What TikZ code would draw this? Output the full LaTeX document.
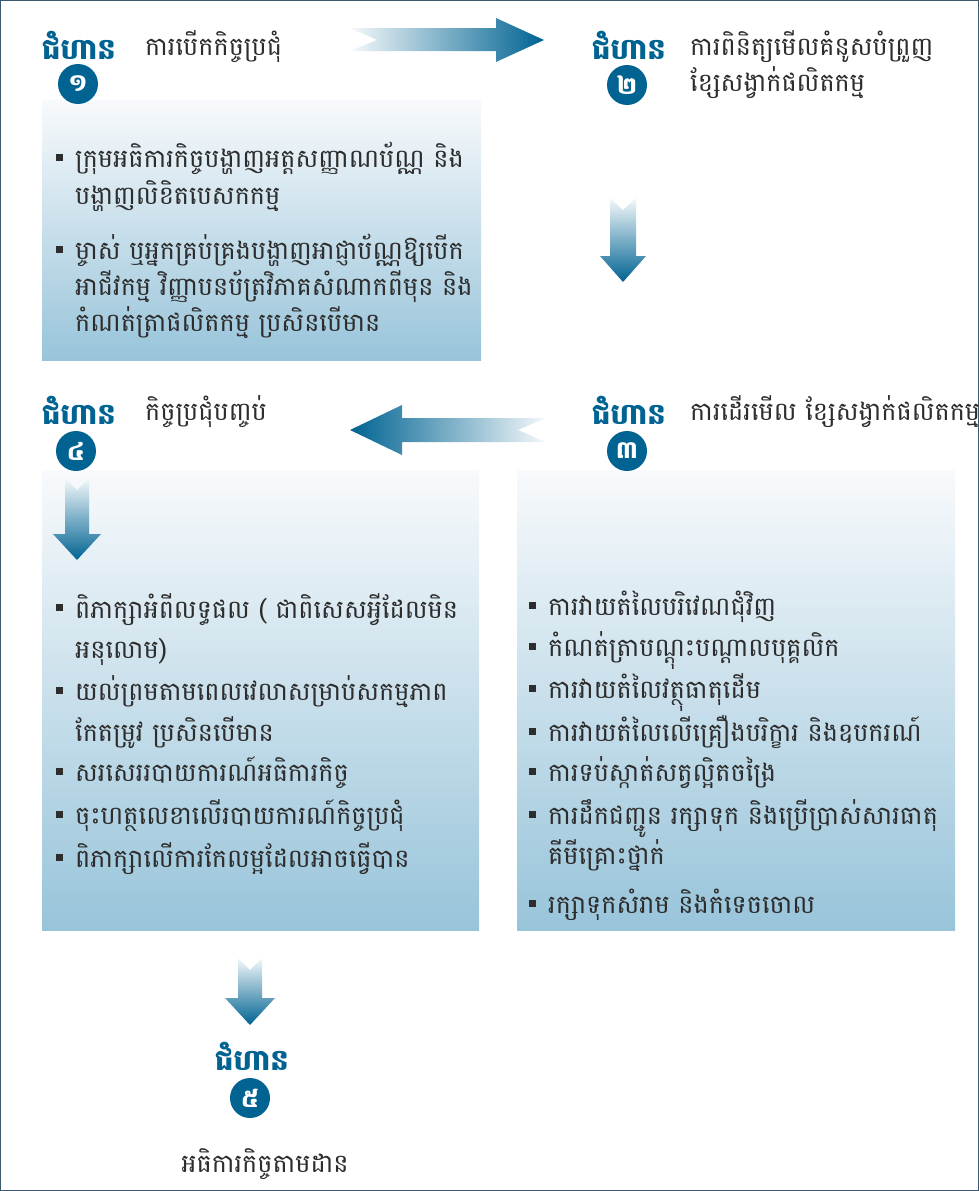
\documentclass[tikz,border=0pt]{standalone}
\usepackage{fontspec}
\newfontfamily\kh[Script=Khmer]{Battambang}
\definecolor{stepblue}{RGB}{0,99,146}
\definecolor{boxtop}{RGB}{248,250,252}
\definecolor{boxbot}{RGB}{152,196,218}
\definecolor{txt}{RGB}{45,45,45}
\definecolor{frame}{RGB}{60,90,110}
\tikzset{
  steplabel/.style={font=\kh\bfseries\fontsize{29}{32}\selectfont, text=stepblue, inner sep=0pt},
  stepnum/.style={circle, fill=stepblue, minimum size=40pt, inner sep=0pt, text=white, font=\kh\bfseries\fontsize{24}{26}\selectfont},
  ktext/.style={anchor=base west, font=\kh\fontsize{25.5}{28}\selectfont, text=txt, inner sep=0pt},
  bul/.style={fill=txt, minimum size=7pt, inner sep=0pt},
  box/.style={top color=boxtop, bottom color=boxbot, draw=none},
}
\begin{document}
\begin{tikzpicture}[x=1pt,y=-1pt]
\useasboundingbox (0,0) rectangle (979,1191);
\draw[frame, line width=1pt] (0.5,0.5) rectangle (978.5,1190.5);

% boxes
\shade[box] (42,100) rectangle (481,360);
\shade[box] (42,470) rectangle (479,930);
\shade[box] (517,470) rectangle (955,930);

% arrows
\shade[left color=stepblue!4, right color=stepblue] (350,28) -- (496,28) -- (496,18) -- (544,40) -- (496,62) -- (496,51) -- (350,51) -- (377,40) -- cycle;
\shade[top color=stepblue!4, bottom color=stepblue] (610,198) -- (623,210) -- (636,198) -- (636,256) -- (646,256) -- (623,282) -- (600,256) -- (610,256) -- cycle;
\shade[left color=stepblue, right color=stepblue!4] (546,418) -- (518,430) -- (546,442) -- (402,442) -- (402,455) -- (350,430) -- (402,405) -- (402,418) -- cycle;
\shade[top color=stepblue!4, bottom color=stepblue] (65,478) -- (77,490) -- (89,478) -- (89,534) -- (101,534) -- (77,560) -- (53,534) -- (65,534) -- cycle;
\shade[top color=stepblue!4, bottom color=stepblue] (238,958) -- (250,970) -- (262,958) -- (262,998) -- (275,998) -- (250,1025) -- (225,998) -- (238,998) -- cycle;

% step headings
\node[steplabel] (s1) at (79,45) {ជំហាន};
\node[stepnum] (n1) at (78,84) {១};
\node[ktext] (t1) at (145,55) {ការបើកកិច្ចប្រជុំ};

\node[steplabel] (s2) at (629,45) {ជំហាន};
\node[stepnum] (n2) at (627,85) {២};
\node[ktext] (t2a) at (690,55) {ការពិនិត្យមើលគំនូសបំព្រួញ};
\node[ktext] (t2b) at (690,91) {ខ្សែសង្វាក់ផលិតកម្ម};

\node[steplabel] (s4) at (79,410) {ជំហាន};
\node[stepnum] (n4) at (76,451) {៤};
\node[ktext] (t4) at (145,420) {កិច្ចប្រជុំបញ្ចប់};

\node[steplabel] (s3) at (629,410) {ជំហាន};
\node[stepnum] (n3) at (627,451) {៣};
\node[ktext] (t3) at (690,420) {ការដើរមើល ខ្សែសង្វាក់ផលិតកម្ម};

\node[steplabel] (s5) at (252,1056) {ជំហាន};
\node[stepnum] (n5) at (250,1098) {៥};
\node[ktext, anchor=base] (t5) at (265,1172) {អធិការកិច្ចតាមដាន};

% box 1
\node[bul] (b11) at (59,157) {};
\node[ktext] (l11) at (75,167) {ក្រុមអធិការកិច្ចបង្ហាញអត្តសញ្ញាណប័ណ្ណ និង};
\node[ktext] (l12) at (75,204) {បង្ហាញលិខិតបេសកកម្ម};
\node[bul] (b12) at (59,249) {};
\node[ktext] (l13) at (75,259) {ម្ចាស់ ឬអ្នកគ្រប់គ្រងបង្ហាញអាជ្ញាប័ណ្ណឱ្យបើក};
\node[ktext] (l14) at (75,295) {អាជីវកម្ម វិញ្ញាបនប័ត្រវិភាគសំណាកពីមុន និង};
\node[ktext] (l15) at (75,331) {កំណត់ត្រាផលិតកម្ម ប្រសិនបើមាន};

% box 4
\node[bul] (b41) at (59,607) {};
\node[ktext] (l41) at (75,618) {ពិភាក្សាអំពីលទ្ធផល ( ជាពិសេសអ្វីដែលមិន};
\node[ktext] (l42) at (75,658) {អនុលោម)};
\node[bul] (b42) at (59,690) {};
\node[ktext] (l43) at (75,700) {យល់ព្រមតាមពេលវេលាសម្រាប់សកម្មភាព};
\node[ktext] (l44) at (75,741) {កែតម្រូវ ប្រសិនបើមាន};
\node[bul] (b43) at (59,771) {};
\node[ktext] (l45) at (75,781) {សរសេររបាយការណ៍អធិការកិច្ច};
\node[bul] (b44) at (59,814) {};
\node[ktext] (l46) at (75,824) {ចុះហត្ថលេខាលើរបាយការណ៍កិច្ចប្រជុំ};
\node[bul] (b45) at (59,857) {};
\node[ktext] (l47) at (75,867) {ពិភាក្សាលើការកែលម្អដែលអាចធ្វើបាន};

% box 3
\node[bul] (b31) at (532,605) {};
\node[ktext] (l31) at (548,615) {ការវាយតំលៃបរិវេណជុំវិញ};
\node[bul] (b32) at (532,646) {};
\node[ktext] (l32) at (548,656) {កំណត់ត្រាបណ្តុះបណ្តាលបុគ្គលិក};
\node[bul] (b33) at (532,688) {};
\node[ktext] (l33) at (548,698) {ការវាយតំលៃវត្ថុធាតុដើម};
\node[bul] (b34) at (532,731) {};
\node[ktext] (l34) at (548,741) {ការវាយតំលៃលើគ្រឿងបរិក្ខារ និងឧបករណ៍};
\node[bul] (b35) at (532,771) {};
\node[ktext] (l35) at (548,781) {ការទប់ស្កាត់សត្វល្អិតចង្រៃ};
\node[bul] (b36) at (532,814) {};
\node[ktext] (l36) at (548,824) {ការដឹកជញ្ជូន រក្សាទុក និងប្រើប្រាស់សារធាតុ};
\node[ktext] (l37) at (548,864) {គីមីគ្រោះថ្នាក់};
\node[bul] (b37) at (532,903) {};
\node[ktext] (l38) at (548,913) {រក្សាទុកសំរាម និងកំទេចចោល};
\end{tikzpicture}
\end{document}
